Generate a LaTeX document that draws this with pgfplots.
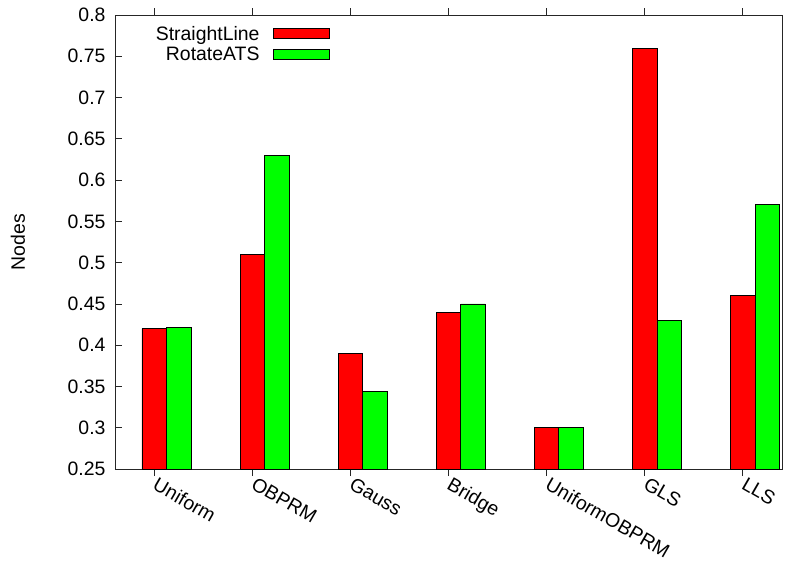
\documentclass[border=0pt]{standalone}
\usepackage{pgfplots}
\pgfplotsset{compat=1.18}
\usepackage{fontspec}
\setmainfont{Liberation Sans}
\definecolor{gred}{RGB}{255,0,0}
\definecolor{ggreen}{RGB}{0,255,0}
\pgfplotstableread{
x  sl     ra
0  0.420  0.421
1  0.510  0.630
2  0.390  0.344
3  0.440  0.450
4  0.300  0.300
5  0.760  0.430
6  0.460  0.570
}\datatable
\begin{document}
\begin{tikzpicture}
\begin{axis}[
  name=ax,
  scale only axis, width=667bp, height=454bp,
  xmin=-0.4, xmax=6.4, ymin=0.25, ymax=0.8,
  ytick={0.25,0.3,0.35,0.4,0.45,0.5,0.55,0.6,0.65,0.7,0.75,0.8},
  xtick={0,1,2,3,4,5,6},
  xticklabels={Uniform,OBPRM,Gauss,Bridge,UniformOBPRM,GLS,LLS},
  xtick pos=both, ytick pos=left, tick align=inside,
  major tick length=7bp,
  axis line style={line width=0.8bp, black!85},
  tick style={line width=0.8bp, black!85},
  /pgf/number format/fixed, /pgf/number format/precision=2,
  /pgf/number format/assume math mode=true,
  tick label style={font=\fontsize{19.5}{23}\selectfont},
  yticklabel style={xshift=-6bp},
  xticklabel style={rotate=-30, anchor=north west, inner sep=1bp, yshift=3bp, xshift=3bp},
  ylabel={Nodes},
  ylabel style={font=\fontsize{19.5}{23}\selectfont, at={(axis description cs:-0.1454,0.5)}, anchor=center},
  ybar, bar width=0.25,
  legend style={draw=none, fill=none, font=\fontsize{19.5}{23}\selectfont,
    at={(axis description cs:0.327,0.985)}, anchor=north east,
    row sep=1.5bp, nodes={inner sep=2bp}},
  legend cell align=right,
  legend plot pos=right,
  legend image code/.code={\path[draw=none,fill=none] (0bp,0bp) -- (12bp,0bp); \draw[#1, line width=0.8bp] (12bp,-5bp) rectangle (68bp,5bp);},
]
\addplot[fill=gred, draw=black, line width=0.8bp, bar shift=0] table[x=x, y=sl] {\datatable};
\addlegendentry{StraightLine}
\addplot[fill=ggreen, draw=black, line width=0.8bp, bar shift=0.25] table[x=x, y=ra] {\datatable};
\addlegendentry{RotateATS}
\end{axis}
\pgfresetboundingbox
\path (ax.south west) ++(-115bp,-92bp) rectangle ++(786bp,561bp);
\end{tikzpicture}
\end{document}
